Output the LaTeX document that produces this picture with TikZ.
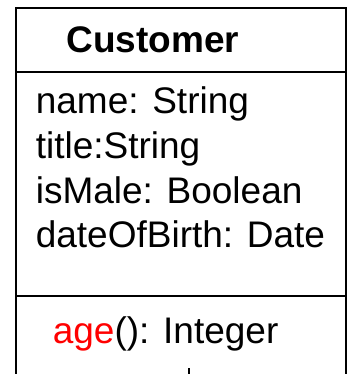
\documentclass[tikz,border=0pt]{standalone}
\usepackage{fontspec}
\setmainfont{Liberation Sans}

\begin{document}
\begin{tikzpicture}[line cap=rect,line join=miter,x=1bp,y=1bp,
  member/.style={anchor=base west,inner sep=0pt,font=\fontsize{37bp}{44bp}\selectfont},
  classname/.style={member,font=\bfseries\fontsize{37bp}{44bp}\selectfont}]
\useasboundingbox (0,0) rectangle (349,374);
% class box, open at the bottom
\draw [line width=2bp] (16,0)-- (16,366)-- (346,366)-- (346,0);
\draw [line width=2bp] (16,302)-- (346,302);
\draw [line width=2bp] (16,78)-- (346,78);
% name compartment
\node[classname] (customer) at (66.4,322) {Customer};
% attributes
\node[member] (name) at (35.6,261) {name: String};
\node[member] (title) at (35.6,216) {title:String};
\node[member] (ismale) at (35.6,171) {isMale: Boolean};
\node[member] (dob) at (35.6,127) {dateOfBirth: Date};
% operations
\node[member] (age) at (52.6,31) {\textcolor{red}{age}(): Integer};
% start of a link below the box
\coordinate (linktop) at (189,6);
\coordinate (linkend) at (189,0);
\draw [line width=2bp,line cap=butt] (linktop)-- (linkend);
\end{tikzpicture}
\end{document}
